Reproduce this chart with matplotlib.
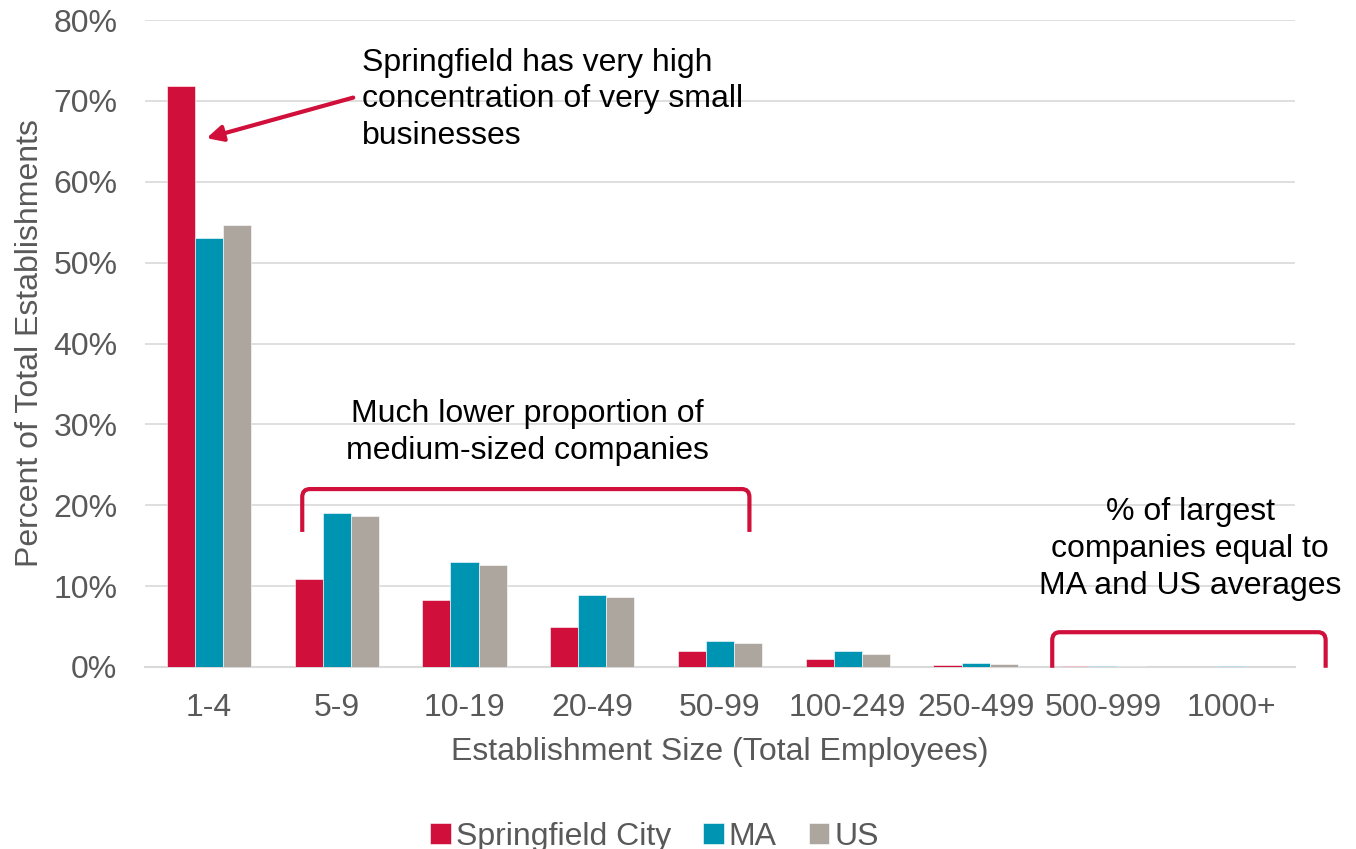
import numpy as np
import matplotlib.pyplot as plt
from matplotlib.path import Path
from matplotlib.patches import PathPatch

plt.rcParams['font.family'] = ['Liberation Sans', 'DejaVu Sans']

categories = ["1-4", "5-9", "10-19", "20-49", "50-99", "100-249", "250-499", "500-999", "1000+"]
springfield = [71.9, 10.9, 8.3, 4.9, 2.0, 1.0, 0.3, 0.1, 0.0]
ma = [53.0, 19.0, 13.0, 8.9, 3.2, 2.0, 0.5, 0.15, 0.1]
us = [54.6, 18.7, 12.6, 8.7, 3.0, 1.6, 0.4, 0.1, 0.05]

series_names = ["Springfield City", "MA", "US"]
colors = ["#D0103A", "#0094B3", "#ADA69F"]
text_gray = "#595959"
fs = 23

fig = plt.figure(figsize=(13.56, 8.49), dpi=100)
ax = fig.add_axes([0.107, 0.2144, 0.848, 0.762])

x = np.arange(len(categories))
w = 0.22
for k, (vals, name, col) in enumerate(zip([springfield, ma, us], series_names, colors)):
    ax.bar(x + (k - 1) * w, vals, width=w, color=col, label=name,
           edgecolor="white", linewidth=0.4, zorder=3)

ax.set_xlim(-0.5, len(categories) - 0.5)
ax.set_ylim(0, 80)
ax.set_yticks(np.arange(0, 81, 10))
ax.set_yticklabels([f"{v}%" for v in range(0, 81, 10)])
ax.set_xticks(x)
ax.set_xticklabels(categories)
ax.tick_params(axis="both", length=0, labelsize=fs, colors=text_gray)
ax.tick_params(axis="x", pad=19)
ax.tick_params(axis="y", pad=20)
ax.grid(axis="y", color="#D9D9D9", linewidth=1.2, zorder=0)
for s in ["top", "right", "left"]:
    ax.spines[s].set_visible(False)
ax.spines["bottom"].set_color("#D9D9D9")
ax.spines["bottom"].set_linewidth(1.5)

ax.set_xlabel("Establishment Size (Total Employees)", fontsize=fs, color=text_gray, labelpad=10)
ax.set_ylabel("Percent of Total Establishments", fontsize=fs, color=text_gray, labelpad=6)

# annotations
red = "#D0103A"
ax.text(1.2, 76.6, "Springfield has very high\nconcentration of very small\nbusinesses",
        fontsize=fs, color="black", va="top", ha="left", linespacing=1.3)
ax.annotate("", xy=(-0.04, 65.3), xytext=(1.15, 70.5),
            arrowprops=dict(arrowstyle="-|>", color=red, lw=3, mutation_scale=24))

ax.text(2.49, 29.0, "Much lower proportion of\nmedium-sized companies",
        fontsize=fs, color="black", va="center", ha="center", linespacing=1.3)
ax.text(7.68, 14.6, "% of largest\ncompanies equal to\nMA and US averages",
        fontsize=fs, color="black", va="center", ha="center", linespacing=1.3)


def bracket(x0, x1, ytop, ybot, r=0.06, ry=1.0):
    verts = [(x0, ybot), (x0, ytop - ry), (x0, ytop), (x0 + r, ytop),
             (x1 - r, ytop), (x1, ytop), (x1, ytop - ry), (x1, ybot)]
    codes = [Path.MOVETO, Path.LINETO, Path.CURVE3, Path.CURVE3,
             Path.LINETO, Path.CURVE3, Path.CURVE3, Path.LINETO]
    p = PathPatch(Path(verts, codes), fill=False, edgecolor=red, lw=3,
                  clip_on=False, zorder=5, capstyle="butt")
    ax.add_patch(p)


bracket(0.73, 4.23, 22.0, 16.7)
bracket(6.6, 8.74, 4.3, -0.1)

ax.legend(loc="lower center", bbox_to_anchor=(0.443, -0.33), ncol=3, frameon=False,
          fontsize=fs, labelcolor=text_gray, handlelength=0.65, handleheight=0.65,
          handletextpad=0.15, columnspacing=1.0)

fig.savefig("out.png", dpi=100)
